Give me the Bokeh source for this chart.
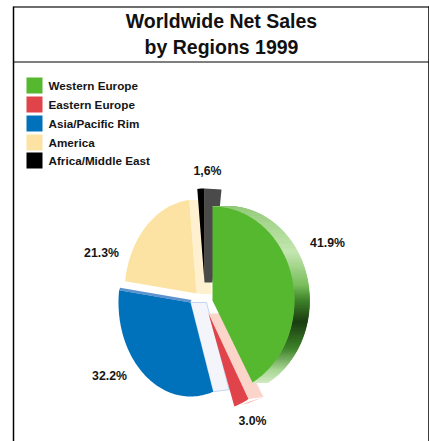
import math
from bokeh.embed import file_html
from bokeh.models import Range1d
from bokeh.plotting import figure
from bokeh.resources import INLINE
from bokeh.core.properties import value

# Regional share of net sales, per cent
regions = ["Western Europe", "Eastern Europe", "Asia/Pacific Rim", "America", "Africa/Middle East"]
shares = [41.9, 3.0, 32.2, 21.3, 1.6]
share_labels = ["41.9%", "3.0%", "32.2%", "21.3%", "1,6%"]
title_lines = ["Worldwide Net Sales", "by Regions 1999"]

# Drawing style, one entry per region
face_colors = ["#55b82e", "#e0434a", "#0071bb", "#fce3a3", "#000000"]
side_colors = [None, "#fcd5ca", "#f4f4fb", "#fff0cf", "#4a4a4a"]
# Apex of each exploded wedge and the sideways depth of its extruded cut face
apex = [(212, 300), (208, 313), (190, 302), (196, 293), (204, 282)]
depth = [15, 15, 16, 15, 17]
radius_x = [82, 82, 72, 72, 72]
radius_y = [94, 98, 94, 94, 94]
label_pos = [(327, 242), (252, 420), (109, 375), (101, 252), (207, 170)]

FONT = "Liberation Sans"
W, H = 429, 441

p = figure(width=W, height=H, output_backend="svg", toolbar_location=None,
           x_range=Range1d(0, W), y_range=Range1d(H, 0), min_border=0,
           background_fill_color="white", border_fill_color="white", outline_line_color=None)
p.axis.visible = False
p.grid.visible = False

# Frame and title rule
p.line([13, 428.5], [6.5, 6.5], line_color="#6e6e6e", line_width=2)
p.line([13, 13], [6, H], line_color="black", line_width=1.5)
p.line([428.5, 428.5], [6, H], line_color="black", line_width=1.5)
p.line([13, 428.5], [61.5, 61.5], line_color="black", line_width=1.2)

p.text([221, 221], [20, 46], text=title_lines, text_font=value(FONT), text_font_style="bold",
       text_font_size="19.5px", text_align="center", text_baseline="middle", text_color="#111111")

# Legend
legend_y = [85, 104, 123, 142, 160]
for name, color, y in zip(regions, face_colors, legend_y):
    p.quad(left=26, right=42, top=y - 8, bottom=y + 8, fill_color=color, line_color=None)
    p.text([48], [y], text=[name], text_font=value(FONT), text_font_style="bold",
           text_font_size="11.7px", text_baseline="middle", text_color="#151515")


def arc_points(i, start, end, shift=0.0):
    """Points on a wedge's elliptical rim, with angles clockwise from the top."""
    cx, cy = apex[i]
    steps = max(2, int((end - start) / 1.5) + 2)
    pts = []
    for k in range(steps):
        t = math.radians(start + (end - start) * k / (steps - 1))
        pts.append((cx + shift + radius_x[i] * math.sin(t), cy - radius_y[i] * math.cos(t)))
    return pts


def mix(stops, y):
    """Colour of the rim gradient at screen height y."""
    for (y0, c0), (y1, c1) in zip(stops, stops[1:]):
        if y <= y1:
            f = max(0.0, (y - y0) / (y1 - y0))
            rgb = [round(a + (b - a) * f) for a, b in zip(c0, c1)]
            return "#%02x%02x%02x" % tuple(rgb)
    return "#%02x%02x%02x" % tuple(stops[-1][1])


rim_stops = [(206, (150, 205, 125)), (252, (196, 230, 176)), (285, (120, 190, 90)),
             (300, (60, 130, 40)), (322, (24, 58, 14)), (348, (60, 130, 40)),
             (370, (170, 215, 150)), (388, (225, 242, 215))]

# Start and end angle of every wedge, clockwise from twelve o'clock
total = sum(shares)
angles = []
running = 0.0
for s in shares:
    angles.append((running, running + s / total * 360.0))
    running += s / total * 360.0

# America, then the black wedge, sit at the back of the stack
draw_order = [3, 4, 2, 1, 0]
for i in draw_order:
    start, end = angles[i]
    cx, cy = apex[i]
    rim = arc_points(i, start, end)
    d = depth[i]
    if i == 0:
        # Curved outer wall with its metallic shading, cut into fine strips
        outer = arc_points(i, start, end, d)
        fine_xs, fine_ys, fine_colors = [], [], []
        for k in range(len(rim) - 1):
            a0, a1 = rim[k], rim[k + 1]
            b0, b1 = outer[k], outer[k + 1]
            for n in range(4):
                f0, f1 = n / 4, (n + 1) / 4
                fx = [a0[0] + (a1[0] - a0[0]) * f0, b0[0] + (b1[0] - b0[0]) * f0,
                      b0[0] + (b1[0] - b0[0]) * f1, a0[0] + (a1[0] - a0[0]) * f1]
                fy = [a0[1] + (a1[1] - a0[1]) * f0, b0[1] + (b1[1] - b0[1]) * f0,
                      b0[1] + (b1[1] - b0[1]) * f1, a0[1] + (a1[1] - a0[1]) * f1]
                fine_xs.append(fx)
                fine_ys.append(fy)
                fine_colors.append(mix(rim_stops, sum(fy) / 4))
        p.patches(fine_xs, fine_ys, fill_color=fine_colors, line_color=fine_colors, line_width=0.6)
    elif i == 1:
        # Pale cut face and the small darker end of the red sliver
        e = rim[0]
        p.patch([cx, cx + d - 2, e[0] + d, e[0]], [cy, cy, e[1] - 2, e[1]],
                fill_color=side_colors[i], line_color=None)
        p.patch([e[0], e[0] + d, rim[-1][0] + 6], [e[1] + 4, e[1] - 2, e[1] + 6],
                fill_color="#f19a92", line_color=None)
    elif i == 2:
        # Lavender cut face with a thin blue edge along the top and rim
        low = rim[0]
        p.patch([cx, cx + d, low[0] + d, low[0]], [cy, cy, low[1] - 2, low[1]],
                fill_color=side_colors[i], line_color="#a9c9e8", line_width=0.7)
        high = rim[-1]
        p.patch([high[0], cx, cx + 1, high[0] + 1], [high[1], cy, cy - 2.5, high[1] - 2.5],
                fill_color="#5c93cf", line_color=None)
    elif i == 3:
        # Pale cut face running back from the apex towards the top of the wedge
        top = rim[-1]
        p.patch([cx, cx + d, top[0] + d, top[0]], [cy, cy + 1, top[1], top[1]],
                fill_color=side_colors[i], line_color=None)
    elif i == 4:
        # Grey extruded wall of the black wedge
        e = rim[-1]
        p.patch([cx, e[0], e[0] + d, cx + d - 9], [cy, e[1], e[1] + 1, cy],
                fill_color=side_colors[i], line_color=None)
    # Top face of the wedge
    p.patch([cx] + [q[0] for q in rim], [cy] + [q[1] for q in rim],
            fill_color=face_colors[i], line_color=None)

# Percentage labels
for text, (x, y) in zip(share_labels, label_pos):
    p.text([x], [y], text=[text], text_font=value(FONT), text_font_style="bold",
           text_font_size="12.3px", text_align="center", text_baseline="middle", text_color="#151515")

open("out.html", "w").write(file_html(p, INLINE))
